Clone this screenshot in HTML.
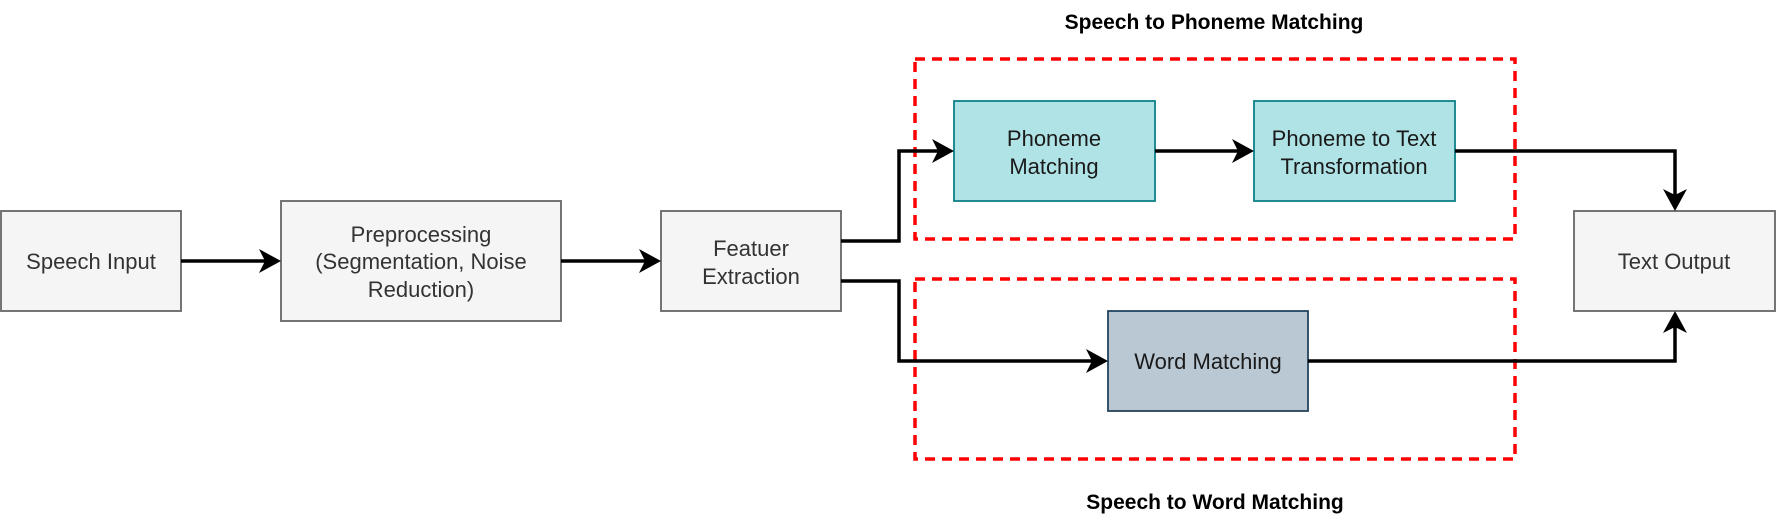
<!DOCTYPE html>
<html><head><meta charset="utf-8"><style>
html,body{margin:0;padding:0;background:#fff;}
svg{display:block;}
text{font-family:"Liberation Sans",Arial,sans-serif;}
</style></head><body>
<svg width="1776" height="522" viewBox="0 0 1776 522" xmlns="http://www.w3.org/2000/svg">
<!-- dashed boxes -->
<rect x="915" y="59" width="600" height="180" fill="none" stroke="#ff0000" stroke-width="3.5" stroke-dasharray="10,7"/>
<rect x="915" y="279" width="600" height="180" fill="none" stroke="#ff0000" stroke-width="3.5" stroke-dasharray="10,7"/>
<!-- boxes -->
<g stroke-width="1.8">
<rect x="1" y="211" width="180" height="100" fill="#f5f5f5" stroke="#666"/>
<rect x="281" y="201" width="280" height="120" fill="#f5f5f5" stroke="#666"/>
<rect x="661" y="211" width="180" height="100" fill="#f5f5f5" stroke="#666"/>
<rect x="1574" y="211" width="201" height="100" fill="#f5f5f5" stroke="#666"/>
<rect x="954" y="101" width="201" height="100" fill="#b0e3e6" stroke="#0e8088"/>
<rect x="1254" y="101" width="201" height="100" fill="#b0e3e6" stroke="#0e8088"/>
<rect x="1108" y="311" width="200" height="100" fill="#bac8d3" stroke="#23445d"/>
</g>
<!-- connectors -->
<g fill="none" stroke="#000" stroke-width="3.5">
<path d="M181 261 H268"/>
<path d="M561 261 H648"/>
<path d="M841 241 H899 V151 H941"/>
<path d="M1155 151 H1241"/>
<path d="M1455 151 H1675 V198"/>
<path d="M841 281 H899 V361 H1095"/>
<path d="M1308 361 H1675 V324"/>
</g>
<g fill="#000">
<path d="M281 261 L259 249 L265 261 L259 273 Z"/>
<path d="M661 261 L639 249 L645 261 L639 273 Z"/>
<path d="M954 151 L932 139 L938 151 L932 163 Z"/>
<path d="M1254 151 L1232 139 L1238 151 L1232 163 Z"/>
<path d="M1108 361 L1086 349 L1092 361 L1086 373 Z"/>
<path d="M1675 211 L1663 189 L1675 195 L1687 189 Z"/>
<path d="M1675 311 L1663 333 L1675 327 L1687 333 Z"/>
</g>
<!-- labels -->
<g font-size="22" fill="#333" text-anchor="middle">
<text x="91" y="269">Speech Input</text>
<text x="421" y="242">Preprocessing</text>
<text x="421" y="269">(Segmentation, Noise</text>
<text x="421" y="297">Reduction)</text>
<text x="751" y="256">Featuer</text>
<text x="751" y="284">Extraction</text>
<text x="1674" y="269">Text Output</text>
</g>
<g font-size="22" fill="#1a1a1a" text-anchor="middle">
<text x="1054" y="146">Phoneme</text>
<text x="1054" y="174">Matching</text>
<text x="1354" y="146">Phoneme to Text</text>
<text x="1354" y="174">Transformation</text>
<text x="1208" y="369">Word Matching</text>
</g>
<g font-size="21" font-weight="bold" fill="#000" text-anchor="middle">
<text x="1214" y="29">Speech to Phoneme Matching</text>
<text x="1215" y="509">Speech to Word Matching</text>
</g>
</svg>
</body></html>
